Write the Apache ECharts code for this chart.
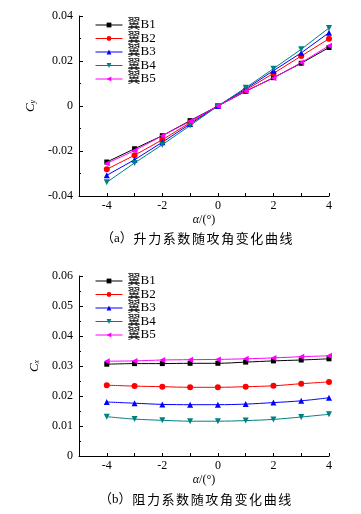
<!DOCTYPE html>
<html><head><meta charset="utf-8">
<script src="https://cdn.jsdelivr.net/npm/echarts@6/dist/echarts.min.js"></script>
<style>html,body{margin:0;padding:0;background:#fff}#c{width:361px;height:514px}</style>
</head><body><div id="c"></div>
<script>
const alpha = [-4,-3,-2,-1,0,1,2,3,4];
const seriesNames = ['翼B1','翼B2','翼B3','翼B4','翼B5'];
const cyB1 = [-0.0249,-0.0190,-0.0132,-0.0065,0,0.0065,0.0126,0.0190,0.0260];
const cyB2 = [-0.0281,-0.0219,-0.0150,-0.0074,0,0.0071,0.0145,0.0222,0.0299];
const cyB3 = [-0.0308,-0.0239,-0.0161,-0.0080,0,0.0076,0.0157,0.0236,0.0326];
const cyB4 = [-0.0339,-0.0253,-0.0172,-0.0087,0,0.0081,0.0166,0.0252,0.0347];
const cyB5 = [-0.0255,-0.0198,-0.0132,-0.0068,0,0.0067,0.0124,0.0193,0.0268];
const cxB1 = [0.0306,0.0308,0.0308,0.0309,0.0309,0.0313,0.0317,0.0320,0.0324];
const cxB2 = [0.0236,0.0233,0.0231,0.0229,0.0229,0.0231,0.0234,0.0241,0.0247];
const cxB3 = [0.0180,0.0176,0.0172,0.0171,0.0171,0.0173,0.0178,0.0184,0.0194];
const cxB4 = [0.0131,0.0123,0.0119,0.0116,0.0116,0.0118,0.0122,0.0130,0.0139];
const cxB5 = [0.0316,0.0317,0.0320,0.0321,0.0322,0.0324,0.0327,0.0331,0.0334];
const captionA = '（a）升力系数随攻角变化曲线';
const captionB = '（b）阻力系数随攻角变化曲线';

const colors = ['#000000','#ff0000','#0000ff','#008080','#ff00ff'];
const symbols = ['rect','circle','triangle','triangle','triangle'];
const rotates = [0,0,0,180,90];
const sizes = [5,6,6,6,6];
const serif = '"Liberation Serif","Times New Roman","Noto Sans CJK SC",serif';
const cy = [cyB1,cyB2,cyB3,cyB4,cyB5];
const cx = [cxB1,cxB2,cxB3,cxB4,cxB5];

function xAx(gi){
  return {
    type:'value', gridIndex:gi, min:-5, max:4, interval:1,
    axisLine:{show:true,onZero:false,lineStyle:{color:'#000',width:1}},
    axisTick:{show:true,inside:true,length:3,lineStyle:{color:'#000'}},
    axisLabel:{color:'#000',fontFamily:serif,fontSize:12,margin:4,
      formatter:v=> (v%2===0 ? String(v) : '')},
    splitLine:{show:false},
    name:'{i|α}/(°)', nameLocation:'middle', nameGap:18,
    nameTextStyle:{color:'#000',fontFamily:serif,fontSize:12,
      rich:{i:{fontStyle:'italic',fontFamily:serif,fontSize:12,color:'#000'}}}
  };
}
function yAx(gi,min,max,interval,sub,fmt){
  return {
    type:'value', gridIndex:gi, min:min, max:max, interval:interval,
    axisLine:{show:true,onZero:false,lineStyle:{color:'#000',width:1}},
    axisTick:{show:true,inside:true,length:4,lineStyle:{color:'#000'}},
    minorTick:{show:true,splitNumber:2,length:2,lineStyle:{color:'#000'}},
    axisLabel:{color:'#000',fontFamily:serif,fontSize:12,margin:6,formatter:fmt},
    splitLine:{show:false},
    name:'{c|C}{s|'+sub+'}', nameLocation:'middle', nameGap:37, nameRotate:90,
    nameTextStyle:{color:'#000',
      rich:{c:{fontStyle:'italic',fontFamily:serif,fontSize:13,color:'#000',lineHeight:16,verticalAlign:'bottom'},
            s:{fontStyle:'italic',fontFamily:serif,fontSize:8,color:'#000',lineHeight:16,verticalAlign:'bottom',padding:[6,0,0,0]}}}
  };
}
const series = [];
for(let k=0;k<2;k++){
  const arr = k===0?cy:cx;
  seriesNames.forEach((n,i)=>{
    series.push({
      type:'line', name:n, xAxisIndex:k, yAxisIndex:k,
      data: alpha.map((a,j)=>[a,arr[i][j]]),
      symbol:symbols[i], symbolRotate:rotates[i], symbolSize:sizes[i],
      showAllSymbol:true, smooth:k===1?0.3:false,
      lineStyle:{color:colors[i],width:1},
      itemStyle:{color:colors[i]},
      emphasis:{disabled:true}, animation:false
    });
  });
}
function leg(top){
  return {
    orient:'vertical', left:95, top:top, padding:0, itemWidth:27, itemHeight:6, itemGap:0.5,
    data:seriesNames, selectedMode:false,
    lineStyle:{width:1},
    textStyle:{color:'#000',fontFamily:serif,fontSize:13,lineHeight:13}
  };
}
function spaced(s){
  return Array.from(s).map(ch=> /[（）ab]/.test(ch) ? '{q|'+ch+'}' : '{p|'+ch+'}').join('');
}
const capRich = {
  p:{fontSize:13,fontFamily:'"Noto Sans CJK SC",sans-serif',color:'#000',padding:[0,0.8,0,0.8]},
  q:{fontSize:13,fontFamily:serif,color:'#000'}
};
const fmtA = v=> v===0?'0':v.toFixed(2);
const fmtB = v=> v===0?'0':v.toFixed(2);
const chart = echarts.init(document.getElementById('c'),null,{renderer:'canvas'});
chart.setOption({
  animation:false,
  backgroundColor:'#fff',
  grid:[{left:79,right:32,top:16,height:180},{left:79,right:32,top:276,height:180}],
  xAxis:[xAx(0),xAx(1)],
  yAxis:[yAx(0,-0.04,0.04,0.02,'y',fmtA), yAx(1,0,0.06,0.01,'x',fmtB)],
  legend:[leg(18.5),leg(274.5)],
  series:series,
  graphic:[
    {type:'text',left:101,top:232,style:{text:spaced(captionA),rich:capRich,fill:'#000'}},
    {type:'text',left:99,top:493,style:{text:spaced(captionB),rich:capRich,fill:'#000'}}
  ]
});
</script></body></html>
